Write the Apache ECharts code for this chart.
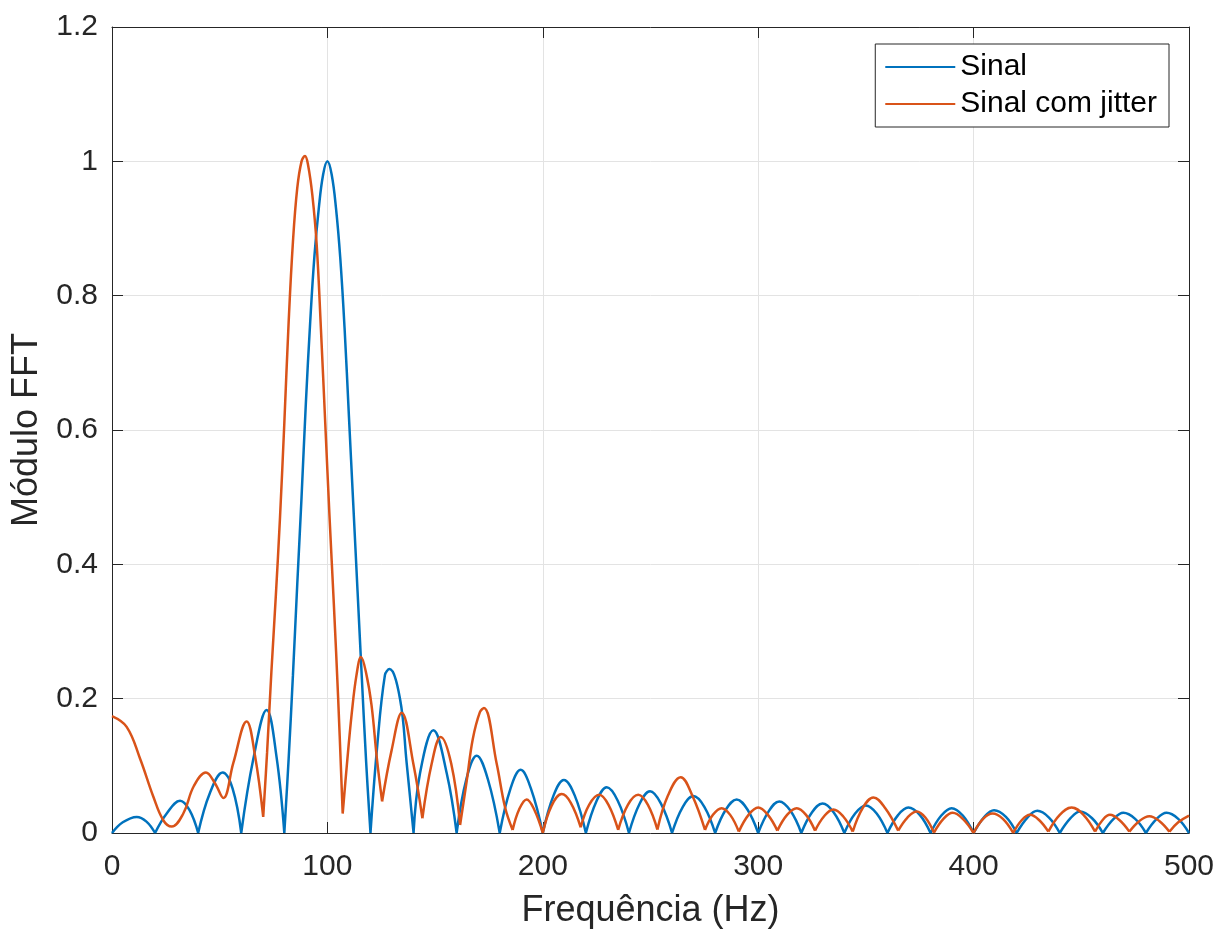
<!DOCTYPE html>
<html>
<head>
<meta charset="utf-8">
<script src="https://cdn.jsdelivr.net/npm/echarts@6/dist/echarts.min.js"></script>
<style>
  html, body { margin: 0; padding: 0; background: #fff; }
  #chart { width: 1228px; height: 929px; }
</style>
</head>
<body>
<div id="chart"></div>
<script>
// eixos
var xTicks = [0, 100, 200, 300, 400, 500]
var yTicks = [0, 0.2, 0.4, 0.6, 0.8, 1, 1.2]
var legendNames = ['Sinal', 'Sinal com jitter']

// Sinal: one lobe per array, from zero to zero [freq Hz, modulo]
var sinalLobes = [
  [[0, 0], [5, 0.016], [11.5, 0.024], [16, 0.017], [20, 0]],
  [[20, 0], [25.4, 0.029], [31.6, 0.048], [36, 0.034], [40, 0]],
  [[40, 0], [45.5, 0.06], [51.4, 0.09], [56, 0.066], [60, 0]],
  [[60, 0], [65.6, 0.11], [71.8, 0.183], [76.4, 0.113], [80, 0]],
  [[80, 0], [82, 0.11], [84, 0.235], [86, 0.37], [88, 0.5], [90, 0.64], [92, 0.76], [94, 0.86],
   [96, 0.93], [98, 0.98], [100, 1.0], [102, 0.98], [104, 0.93], [106, 0.855], [108, 0.75],
   [110, 0.62], [112, 0.49], [114, 0.36], [116, 0.23], [118, 0.105], [120, 0]],
  [[120, 0], [123, 0.125], [126.7, 0.235], [128.8, 0.244], [133.7, 0.2], [136.8, 0.104], [140, 0]],
  [[140, 0], [143, 0.089], [149.2, 0.153], [155.4, 0.089], [160, 0]],
  [[160, 0], [164.5, 0.08], [169.3, 0.115], [174.5, 0.08], [180, 0]],
  [[180, 0], [185, 0.066], [189.7, 0.094], [194.5, 0.066], [200, 0]],
  [[200, 0], [205, 0.056], [209.8, 0.079], [214.8, 0.056], [220, 0]],
  [[220, 0], [225, 0.048], [229.7, 0.068], [234.8, 0.048], [240, 0]],
  [[240, 0], [245, 0.044], [249.8, 0.062], [254.8, 0.044], [260, 0]],
  [[260, 0], [265, 0.039], [269.9, 0.055], [275, 0.039], [280, 0]],
  [[280, 0], [285, 0.035], [290, 0.05], [295, 0.035], [300, 0]],
  [[300, 0], [305, 0.033], [309.8, 0.047], [315, 0.033], [320, 0]],
  [[320, 0], [325, 0.031], [329.9, 0.044], [335, 0.031], [340, 0]],
  [[340, 0], [345, 0.029], [350, 0.041], [355, 0.029], [360, 0]],
  [[360, 0], [365, 0.027], [369.7, 0.038], [375, 0.027], [380, 0]],
  [[380, 0], [385, 0.026], [389.8, 0.037], [395, 0.026], [400, 0]],
  [[400, 0], [405, 0.024], [409.5, 0.034], [415, 0.024], [420, 0]],
  [[420, 0], [425, 0.023], [429.6, 0.033], [435, 0.023], [440, 0]],
  [[440, 0], [445, 0.022], [449.4, 0.032], [455, 0.022], [460, 0]],
  [[460, 0], [465, 0.021], [469.5, 0.03], [475, 0.021], [480, 0]],
  [[480, 0], [485, 0.021], [489.6, 0.03], [495, 0.021], [500, 0]]
]

// Sinal com jitter: split at its sharp minima
var jitterLobes = [
  [[0, 0.174], [6.8, 0.158], [13, 0.111], [19.2, 0.054], [23.8, 0.019], [27.7, 0.0095],
   [33.1, 0.029], [38, 0.07], [43.6, 0.09], [47.8, 0.074], [51.7, 0.052], [56.3, 0.104],
   [62.5, 0.166], [66.4, 0.115], [70.2, 0.024]],
  [[70.2, 0.024], [72, 0.12], [74, 0.24], [76, 0.35], [78, 0.47], [80, 0.61], [82, 0.76], [84, 0.88],
   [86, 0.96], [88, 1.0], [89.6, 1.008], [91, 0.995], [93, 0.95], [95, 0.877], [97, 0.75],
   [99, 0.61], [101, 0.47], [103, 0.34], [105, 0.2], [107.1, 0.029]],
  [[107.1, 0.029], [109, 0.1], [111.3, 0.178], [113.5, 0.235], [115.6, 0.262], [118, 0.238],
   [120.5, 0.19], [123, 0.11], [125.4, 0.047]],
  [[125.4, 0.047], [129.8, 0.123], [134.5, 0.179], [139.9, 0.103], [144.1, 0.022]],
  [[144.1, 0.022], [148.4, 0.103], [152.6, 0.143], [157.5, 0.103], [161.6, 0.012]],
  [[161.6, 0.012], [164.7, 0.078], [167.5, 0.14], [170.8, 0.18], [172.7, 0.186], [178.6, 0.103],
   [182.5, 0.038], [186, 0.0045]],
  [[186, 0.0045], [189, 0.035], [192.5, 0.05], [196, 0.035], [200, 0]],
  [[200, 0], [204, 0.04], [208.8, 0.058], [213, 0.045], [217.6, 0.0085]],
  [[217.6, 0.0085], [221.5, 0.042], [226.2, 0.057], [230.5, 0.042], [235, 0.0045]],
  [[235, 0.0045], [239.5, 0.042], [244.3, 0.057], [248.8, 0.042], [253.2, 0.005]],
  [[253.2, 0.005], [258, 0.055], [264, 0.083], [269.5, 0.055], [275.3, 0.0045]],
  [[275.3, 0.0045], [279, 0.027], [283, 0.037], [287, 0.027], [291, 0.002]],
  [[291, 0.002], [295.5, 0.027], [300, 0.038], [304.5, 0.027], [308.9, 0.0035]],
  [[308.9, 0.0035], [313.4, 0.027], [317.9, 0.037], [322.2, 0.027], [326.4, 0.0035]],
  [[326.4, 0.0035], [330.6, 0.025], [334.9, 0.035], [339.4, 0.025], [343.9, 0.002]],
  [[343.9, 0.002], [348.5, 0.037], [353.5, 0.053], [359, 0.037], [365, 0.0035]],
  [[365, 0.0035], [369.3, 0.023], [373.6, 0.032], [377.6, 0.023], [381.6, 0.0005]],
  [[381.6, 0.0005], [386, 0.021], [390.3, 0.03], [395, 0.021], [400, 0]],
  [[400, 0], [404.4, 0.021], [408.8, 0.029], [413.6, 0.021], [418.4, 0]],
  [[418.4, 0], [422.3, 0.019], [426.2, 0.027], [430.5, 0.019], [434.7, 0.002]],
  [[434.7, 0.002], [440, 0.027], [445.5, 0.038], [451, 0.027], [456.4, 0.002]],
  [[456.4, 0.002], [459.8, 0.019], [463.3, 0.027], [467.8, 0.019], [472.3, 0.002]],
  [[472.3, 0.002], [477, 0.018], [481.6, 0.025], [486.2, 0.018], [490.9, 0.002]],
  [[490.9, 0.002], [495, 0.016], [500, 0.026]]
]

var colors = ['#0072BD', '#D95319']
var axisColor = '#262626'
var fontFamily = '"Liberation Sans", Arial, Helvetica, sans-serif'

// lobes are joined with a gap point so each minimum stays a sharp corner
function joinLobes(lobes) {
  var out = []
  lobes.forEach((lobe, i) => {
    if (i > 0) out.push([lobe[0][0], '-'])
    lobe.forEach(p => out.push(p))
  })
  return out
}

function makeAxis(dim, ticks, main) {
  return {
    type: 'value',
    position: main ? (dim == 'x' ? 'bottom' : 'left') : (dim == 'x' ? 'top' : 'right'),
    min: ticks[0],
    max: ticks[ticks.length - 1],
    interval: ticks[1] - ticks[0],
    axisLine: { show: true, onZero: false, lineStyle: { color: axisColor, width: 1 } },
    axisTick: { show: true, inside: true, length: 11, lineStyle: { color: axisColor } },
    axisLabel: {
      show: main,
      color: axisColor,
      fontSize: 30,
      fontFamily: fontFamily,
      margin: dim == 'x' ? 19 : 14
    },
    splitLine: { show: main, lineStyle: { color: '#e3e3e3', width: 1 } }
  }
}

var chart = echarts.init(document.getElementById('chart'))

var xMain = makeAxis('x', xTicks, true)
xMain.name = 'Frequência (Hz)'
xMain.nameLocation = 'middle'
xMain.nameGap = 60
xMain.nameTextStyle = { fontSize: 36, color: axisColor, fontFamily: fontFamily }

var yMain = makeAxis('y', yTicks, true)
yMain.name = 'Módulo FFT'
yMain.nameLocation = 'middle'
yMain.nameGap = 56
yMain.nameTextStyle = { fontSize: 36, color: axisColor, fontFamily: fontFamily }

var options = {
  animation: false,
  backgroundColor: '#fff',
  // keep the plot box fixed, do not shrink it to fit the labels
  grid: { left: 112, right: 39, top: 27, bottom: 96, outerBoundsMode: 'none' },
  legend: {
    data: legendNames,
    orient: 'vertical',
    right: 59,
    top: 44,
    icon: 'rect',
    itemWidth: 70,
    itemHeight: 2,
    itemGap: 7,
    padding: [8, 12, 8, 10],
    borderColor: axisColor,
    borderWidth: 1,
    backgroundColor: '#fff',
    selectedMode: false,
    textStyle: { fontSize: 30, lineHeight: 30, color: '#000', fontFamily: fontFamily }
  },
  xAxis: [xMain, makeAxis('x', xTicks, false)],
  yAxis: [yMain, makeAxis('y', yTicks, false)],
  series: [
    {
      name: legendNames[0],
      type: 'line',
      data: joinLobes(sinalLobes),
      smooth: 0.4,
      showSymbol: false,
      connectNulls: false,
      color: colors[0],
      lineStyle: { width: 2.5, color: colors[0] },
      z: 3
    },
    {
      name: legendNames[1],
      type: 'line',
      data: joinLobes(jitterLobes),
      smooth: 0.4,
      showSymbol: false,
      connectNulls: false,
      color: colors[1],
      lineStyle: { width: 2.5, color: colors[1] },
      z: 4
    }
  ]
}
chart.setOption(options)
</script>
</body>
</html>
